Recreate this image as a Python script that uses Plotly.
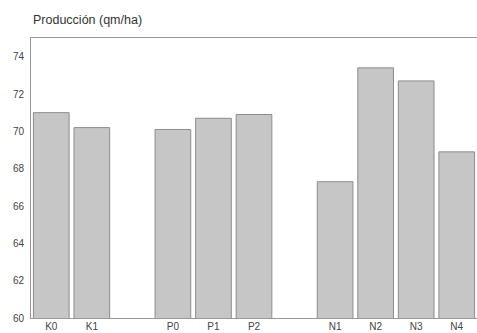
import plotly.graph_objects as go

# Data
k_labels = ["K0", "K1"]
k_values = [71.0, 70.2]
p_labels = ["P0", "P1", "P2"]
p_values = [70.1, 70.7, 70.9]
n_labels = ["N1", "N2", "N3", "N4"]
n_values = [67.3, 73.4, 72.7, 68.9]
y_ticks = [60, 62, 64, 66, 68, 70, 72, 74]
title_text = "Producción (qm/ha)"

groups = [(k_labels, k_values), (p_labels, p_values), (n_labels, n_values)]

xs, ys, labels = [], [], []
pos = 0
for gi, (labs, vals) in enumerate(groups):
    for lab, v in zip(labs, vals):
        xs.append(pos)
        ys.append(v)
        labels.append(lab)
        pos += 1
    pos += 1  # empty slot between groups

fig = go.Figure()
fig.add_trace(go.Bar(
    x=xs, y=ys,
    marker=dict(color="#c6c6c6", line=dict(color="#8c8c8c", width=1)),
    width=0.88,
    hoverinfo="x+y",
))

fig.update_layout(
    width=477, height=333,
    margin=dict(l=31, r=0, t=38, b=15, pad=0),
    plot_bgcolor="white", paper_bgcolor="white",
    showlegend=False,
    font=dict(family="Liberation Sans, Arial, sans-serif", size=10, color="#444"),
    xaxis=dict(
        range=[-0.5, 10.5],
        tickmode="array", tickvals=xs, ticktext=labels,
        showgrid=False, zeroline=False, automargin=False,
        showline=True, linecolor="#999", linewidth=1, mirror=True,
        ticks="", ticklabelstandoff=-1,
        tickfont=dict(size=10, color="#444"),
    ),
    yaxis=dict(
        range=[60, 75],
        tickmode="array", tickvals=y_ticks,
        showgrid=False, zeroline=False, automargin=False,
        showline=True, linecolor="#999", linewidth=1,
        ticks="", ticklabelstandoff=4,
        tickfont=dict(size=10, color="#444"),
    ),
    annotations=[dict(
        text=title_text, xref="paper", yref="paper",
        x=0, y=1, xanchor="left", yanchor="middle", yshift=18,
        showarrow=False, font=dict(size=12.5, color="#333"),
    )],
)

fig.write_html(
    "out.html",
    config={"displayModeBar": False},
    post_script="document.body.style.margin='0px';document.body.style.overflow='hidden';",
)
